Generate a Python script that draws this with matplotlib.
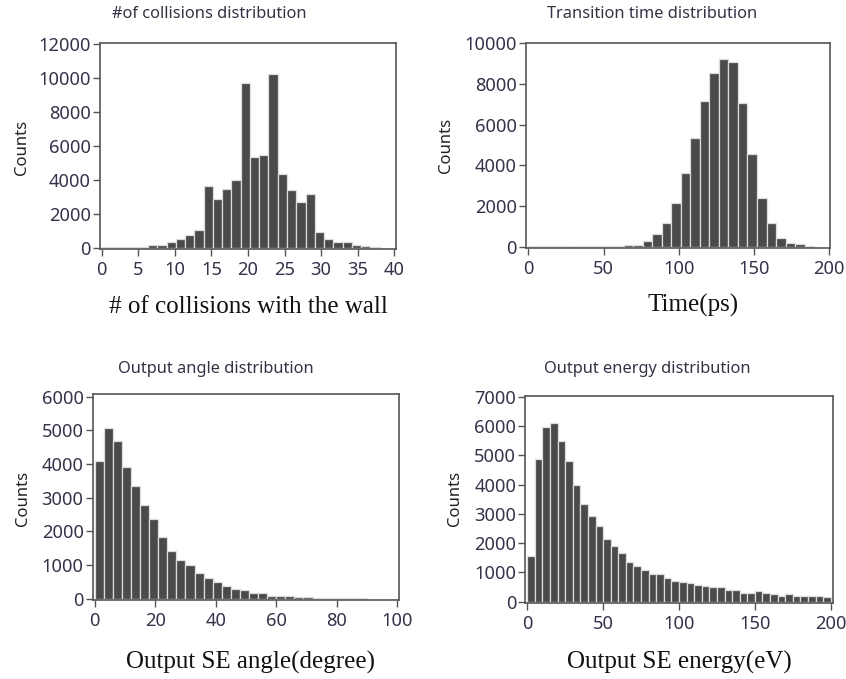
import matplotlib
matplotlib.use('Agg')
import matplotlib.pyplot as plt
import numpy as np

# ---------------- data ----------------
collision_counts = [60, 60, 60, 60, 60, 140, 140, 350, 530, 760,
                    1060, 3630, 2840, 3470, 3980, 9690, 5310, 5470, 10220, 4330,
                    3390, 2710, 3160, 910, 510, 360, 360, 140, 70, 60]
time_counts = [40, 40, 40, 40, 40, 40, 40, 40, 40, 40,
               100, 100, 260, 620, 1150, 2130, 3640, 5340, 7180, 8560,
               9210, 9100, 7050, 4560, 2380, 1150, 420, 170, 110, 50]
angle_counts = [4090, 5060, 4670, 3920, 3350, 2790, 2360, 1840, 1420, 1150,
                990, 760, 600, 490, 370, 290, 250, 170, 170, 90,
                90, 90, 60, 60, 20, 20, 20, 20, 20, 20]
energy_counts = [1570, 4860, 5980, 6090, 5500, 4810, 3980, 3350, 2940, 2570,
                 2130, 1900, 1670, 1350, 1220, 1080, 940, 940, 810, 720,
                 670, 630, 580, 540, 490, 490, 400, 400, 310, 310,
                 360, 310, 250, 210, 260, 210, 210, 210, 210, 160]

titles = ["#of collisions distribution", "Transition time distribution",
          "Output angle distribution", "Output energy distribution"]
xlabels = ["# of collisions with the wall", "Time(ps)",
           "Output SE angle(degree)", "Output SE energy(eV)"]
ylabel = "Counts"
data_ranges = [(0, 38), (0, 190), (0, 90), (0, 200)]
xticks = [[0, 5, 10, 15, 20, 25, 30, 35, 40], [0, 50, 100, 150, 200],
          [0, 20, 40, 60, 80, 100], [0, 50, 100, 150, 200]]
yticks = [[0, 2000, 4000, 6000, 8000, 10000, 12000],
          [0, 2000, 4000, 6000, 8000, 10000],
          [0, 1000, 2000, 3000, 4000, 5000, 6000],
          [0, 1000, 2000, 3000, 4000, 5000, 6000, 7000]]
series = [collision_counts, time_counts, angle_counts, energy_counts]

# ---------------- layout (pixels) ----------------
W, H = 846, 679
fig = plt.figure(figsize=(W / 100, H / 100), dpi=100)

boxes = [(100, 396, 43.3, 248.7), (526, 830, 42.7, 247.7),
         (92.7, 398.7, 394, 600), (525.3, 832.7, 395.7, 602.7)]
xlims = [(-0.23, 40.23), (-1.5, 200.5), (-0.66, 100.46), (-1.3, 201.3)]
ylims = [(-60, 12025), (-50, 10030), (-40, 6080), (-35, 7035)]
title_pos = [(209, 14), (652, 14), (216, 369), (647, 369)]
ylabel_pos = [(22, 147), (446, 145), (23, 498), (455, 498)]
xlabel_pos = [(248, 307), (693, 305), (250, 662), (679, 662)]

sans = ['Noto Sans', 'DejaVu Sans']
serif = ['Liberation Serif', 'DejaVu Serif']
tick_col = '#33334a'

for i in range(4):
    l, r, t, b = boxes[i]
    ax = fig.add_axes([l / W, 1 - b / H, (r - l) / W, (b - t) / H])
    vals = series[i]
    lo, hi = data_ranges[i]
    edges = np.linspace(lo, hi, len(vals) + 1)
    ax.bar(edges[:-1], vals, width=np.diff(edges), align='edge',
           color='#4a4a4a', edgecolor='#dcdcdc', linewidth=0.9, zorder=2)
    ax.set_xlim(*xlims[i])
    ax.set_ylim(*ylims[i])
    ax.set_xticks(xticks[i])
    ax.set_yticks(yticks[i])
    ax.tick_params(direction='out', length=5, width=1, color='#555555',
                   labelsize=13.2, labelcolor=tick_col)
    ax.tick_params(axis='x', pad=4)
    ax.tick_params(axis='y', pad=1.5)
    for lab in ax.get_xticklabels() + ax.get_yticklabels():
        lab.set_family(sans)
    for sp in ax.spines.values():
        sp.set_color('#555555')
        sp.set_linewidth(1.2)

    tx, ty = title_pos[i]
    fig.text(tx / W, 1 - ty / H, titles[i], ha='center', va='center',
             fontsize=11.8, family=sans, color='#333345')
    yx, yy = ylabel_pos[i]
    fig.text(yx / W, 1 - yy / H, ylabel, ha='center', va='center',
             rotation=90, fontsize=12, family=sans, color='#222222')
    xx, xy = xlabel_pos[i]
    fig.text(xx / W, 1 - xy / H, xlabels[i], ha='center', va='center',
             fontsize=18, family=serif, color='#111111')

fig.savefig('out.png', dpi=100)
